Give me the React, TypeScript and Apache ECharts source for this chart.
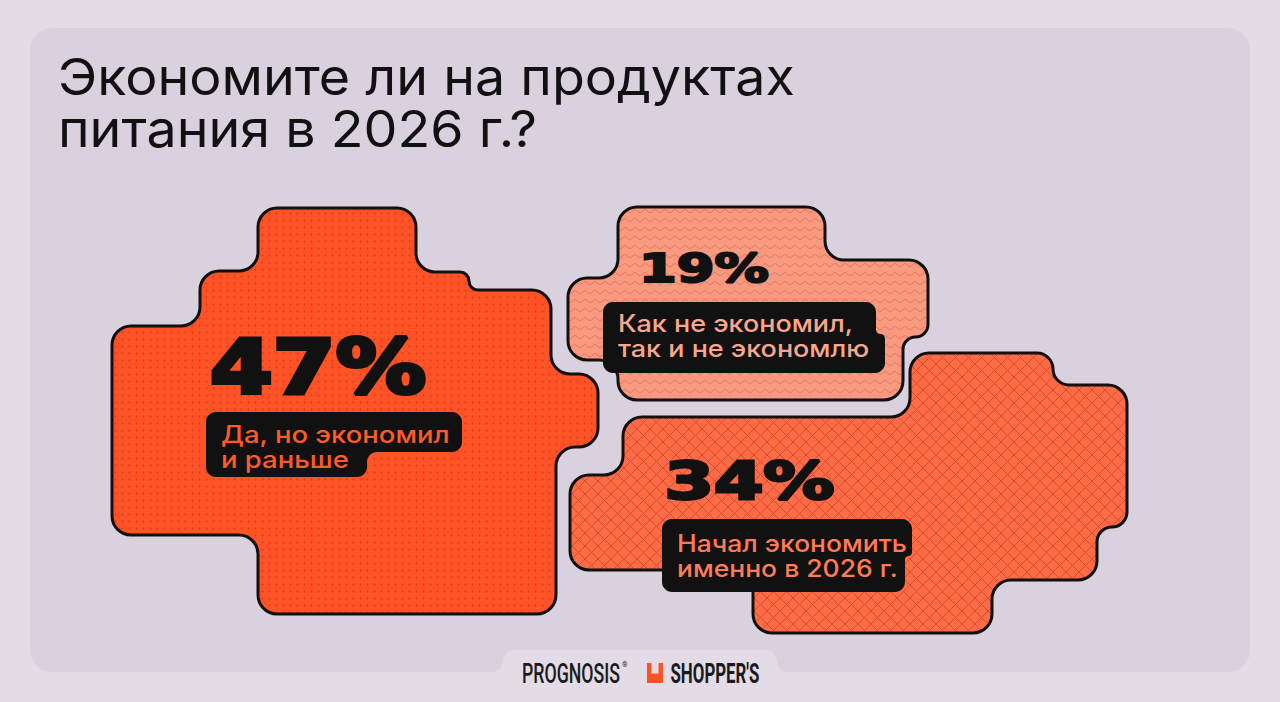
import React, { useEffect, useRef } from 'react';
import * as echarts from 'echarts';

// ---------------- data ----------------
const titleLines = ['Экономите ли на продуктах', 'питания в 2026 г.?'];
const shareValues = [47, 19, 34];
const answerFirstLines = ['Да, но экономил', 'Как не экономил,', 'Начал экономить'];
const answerSecondLines = ['и раньше', 'так и не экономлю', 'именно в 2026 г.'];
const brandNames = ['PROGNOSIS', "SHOPPER'S"];

// ---------------- layout / style ----------------
type Pt = [number, number];

const BG_OUTER = '#e3dce6';
const BG_CARD = '#d9d1dd';
const INK = '#111111';

const blobOutlines: Pt[][] = [
  [[258, 208], [416, 208], [416, 272], [469, 272], [469, 290], [551, 290], [551, 374], [598, 374], [598, 447], [556, 447], [556, 614], [258, 614], [258, 535], [112, 535], [112, 326], [200, 326], [200, 271], [258, 271]],
  [[618, 207], [825, 207], [825, 260], [928, 260], [928, 337], [903, 337], [903, 400], [618, 400], [618, 360], [568, 360], [568, 278], [618, 278]],
  [[910, 353], [1053, 353], [1053, 385], [1127, 385], [1127, 527], [1097, 527], [1097, 580], [992, 580], [992, 633], [753, 633], [753, 570], [570, 570], [570, 475], [623, 475], [623, 417], [910, 417]],
];

const labelBoxes: Pt[][] = [
  [[206, 412], [462, 412], [462, 452], [367, 452], [367, 477], [206, 477]],
  [[603, 302], [876, 302], [876, 334], [885, 334], [885, 373], [603, 373]],
  [[662, 519], [912, 519], [912, 556], [905, 556], [905, 592], [662, 592]],
];

const blobStyles = [
  { kind: 'dots', base: '#ff5226', ink: '#d0401b' },
  { kind: 'zigzag', base: '#f99a80', ink: '#e07c63' },
  { kind: 'grid', base: '#ff6b47', ink: '#d2502e' },
];

const percentBoxes = [
  { x: 208, top: 336, bottom: 395, width: 220 },
  { x: 638, top: 253, bottom: 283, width: 132 },
  { x: 663, top: 460, bottom: 501, width: 173 },
];

const answerPos = [
  { x: 221, b1: 442.5, b2: 468, width: 229, color: '#ff5a2b' },
  { x: 618, b1: 331.7, b2: 356.7, width: 235, color: '#f9a68d' },
  { x: 677, b1: 551.7, b2: 576.7, width: 230, color: '#ff7b57' },
];

function roundedPath(pts: Pt[], R: number): string {
  const n = pts.length;
  const len = (a: Pt, b: Pt) => Math.hypot(b[0] - a[0], b[1] - a[1]);
  const toward = (from: Pt, to: Pt, d: number): Pt => {
    const L = len(from, to);
    return [from[0] + ((to[0] - from[0]) * d) / L, from[1] + ((to[1] - from[1]) * d) / L];
  };
  let d = '';
  for (let i = 0; i < n; i++) {
    const p = pts[i];
    const prev = pts[(i - 1 + n) % n];
    const next = pts[(i + 1) % n];
    const r = Math.min(R, len(prev, p) / 2, len(p, next) / 2);
    const a = toward(p, prev, r);
    const b = toward(p, next, r);
    const c1 = toward(a, p, r * 0.55);
    const c2 = toward(b, p, r * 0.55);
    d += (i === 0 ? 'M' : 'L') + a[0] + ' ' + a[1] + ' C' + c1[0] + ' ' + c1[1] + ' ' + c2[0] + ' ' + c2[1] + ' ' + b[0] + ' ' + b[1] + ' ';
  }
  return d + 'Z';
}

function makeTile(kind: string, base: string, ink: string) {
  const c = document.createElement('canvas');
  let w = 7, h = 7;
  if (kind === 'zigzag') { w = 10; h = 9; }
  if (kind === 'grid') { w = 13; h = 13; }
  c.width = w; c.height = h;
  const ctx = c.getContext('2d')!;
  ctx.fillStyle = base;
  ctx.fillRect(0, 0, w, h);
  ctx.strokeStyle = ink;
  ctx.fillStyle = ink;
  ctx.lineWidth = 1;
  if (kind === 'dots') {
    ctx.beginPath();
    ctx.arc(3.5, 3.5, 0.9, 0, Math.PI * 2);
    ctx.fill();
  } else if (kind === 'zigzag') {
    ctx.beginPath();
    ctx.moveTo(-0.5, 6.3);
    ctx.lineTo(5, 2.3);
    ctx.lineTo(10.5, 6.3);
    ctx.stroke();
  } else {
    ctx.beginPath();
    ctx.moveTo(-1, -1); ctx.lineTo(w + 1, h + 1);
    ctx.moveTo(w + 1, -1); ctx.lineTo(-1, h + 1);
    ctx.stroke();
  }
  return { image: c, repeat: 'repeat', imageWidth: w, imageHeight: h } as any;
}

const mctx = typeof document !== 'undefined' ? document.createElement('canvas').getContext('2d') : null;
function measure(text: string, font: string) {
  if (!mctx) return 1;
  mctx.font = font;
  return mctx.measureText(text).width || 1;
}

function textEl(text: string, x: number, baseline: number, size: number, family: string, weight: string | number, fill: string, k: number, scaleX: number, z: number, strokeW = 0) {
  const style: any = {
    text,
    fill,
    fontSize: size,
    fontFamily: family,
    fontWeight: weight,
    textAlign: 'left',
    textVerticalAlign: 'middle',
    align: 'left',
    verticalAlign: 'middle',
  };
  if (strokeW > 0) {
    style.stroke = fill;
    style.lineWidth = strokeW;
    style.lineJoin = 'round';
  }
  return { type: 'text', x, y: baseline - k * size, scaleX, z, style };
}

export default function App() {
  const ref = useRef<HTMLDivElement>(null);

  useEffect(() => {
    const el = ref.current!;
    const chart = echarts.init(el, null, { renderer: 'svg' });

    const elements: any[] = [];
    let z = 1;

    // card
    elements.push({ type: 'rect', z: z++, shape: { x: 30, y: 28, width: 1220, height: 644, r: 22 }, style: { fill: BG_CARD } });
    // bottom tab
    echarts.graphic.registerShape('tabShape', echarts.graphic.extendPath(roundedPath([[470, 690], [470, 672], [503, 672], [503, 650], [777, 650], [777, 672], [810, 672], [810, 690]], 11), {}) as any);
    elements.push({ type: 'tabShape', z: z++, x: 0, y: 0, style: { fill: BG_OUTER } });

    // blobs
    blobOutlines.forEach((pts, i) => {
      const name = 'blob' + i;
      echarts.graphic.registerShape(name, echarts.graphic.extendPath(roundedPath(pts, 19), {}) as any);
      const st = blobStyles[i];
      elements.push({
        type: name, z: z++, x: 0, y: 0,
        style: { fill: makeTile(st.kind, st.base, st.ink), stroke: INK, lineWidth: 3, lineJoin: 'round' },
      });
    });

    // label boxes
    labelBoxes.forEach((pts, i) => {
      const name = 'lbox' + i;
      echarts.graphic.registerShape(name, echarts.graphic.extendPath(roundedPath(pts, 10), {}) as any);
      elements.push({ type: name, z: z++, x: 0, y: 0, style: { fill: INK } });
    });

    // percentages (heavy look: bold + same-colour stroke)
    shareValues.forEach((v, i) => {
      const b = percentBoxes[i];
      const capH = b.bottom - b.top;
      const lw = capH * 0.07;
      const size = (capH - lw) / 0.729;
      const txt = v + '%';
      const sx = (b.width - lw) / measure(txt, `bold ${size}px "DejaVu Sans"`);
      elements.push(textEl(txt, b.x + lw / 2, b.bottom - lw / 2, size, 'DejaVu Sans', 'bold', INK, 0.346, sx, z++, lw));
    });

    // answers
    answerFirstLines.forEach((l1, i) => {
      const p = answerPos[i];
      const size = 24;
      const sx = p.width / measure(l1, `500 ${size}px Inter`);
      elements.push(textEl(l1, p.x, p.b1, size, 'Inter', 500, p.color, 0.363, sx, z++));
      elements.push(textEl(answerSecondLines[i], p.x, p.b2, size, 'Inter', 500, p.color, 0.363, sx, z++));
    });

    // title
    const tSize = 50.5;
    const tsx = 737 / measure(titleLines[0], `400 ${tSize}px Inter`);
    elements.push(textEl(titleLines[0], 58, 95, tSize, 'Inter', 400, INK, 0.363, tsx, z++));
    elements.push(textEl(titleLines[1], 58, 146.7, tSize, 'Inter', 400, INK, 0.363, tsx, z++));

    // brands
    const bSize = 28;
    const s1 = 98 / measure(brandNames[0], `500 ${bSize}px Roboto`);
    elements.push(textEl(brandNames[0], 522, 683, bSize, 'Roboto', 500, '#1a1a1a', 0.342, s1, z++));
    elements.push({ type: 'text', z: z++, x: 622, y: 661, style: { text: '®', fill: '#1a1a1a', fontSize: 7, fontFamily: 'Roboto' } });
    elements.push({
      type: 'polygon', z: z++,
      shape: { points: [[647, 663], [651.5, 663], [651.5, 673.5], [658.5, 673.5], [658.5, 663], [663, 663], [663, 683], [647, 683]] },
      style: { fill: '#ff5226' },
    });
    const s2 = 89 / measure(brandNames[1], `700 ${bSize}px Roboto`);
    elements.push(textEl(brandNames[1], 670.5, 683, bSize, 'Roboto', 700, '#1a1a1a', 0.342, s2, z++));

    chart.setOption({
      animation: false,
      backgroundColor: BG_OUTER,
      graphic: { elements },
    });

    return () => chart.dispose();
  }, []);

  return <div ref={ref} style={{ position: 'fixed', left: 0, top: 0, width: 1280, height: 702 }} />;
}
